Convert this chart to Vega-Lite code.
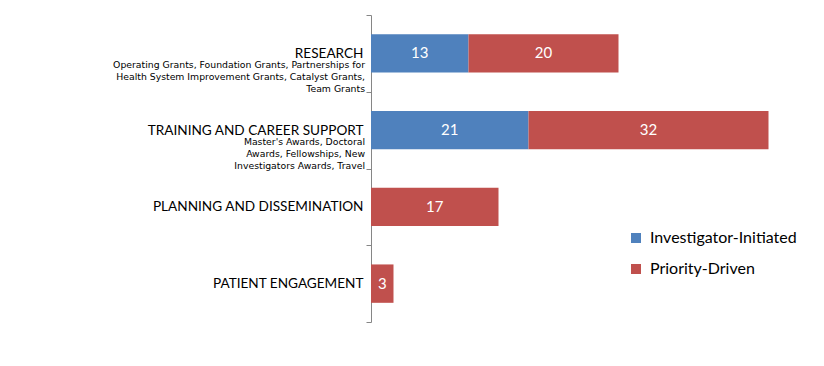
{
  "$schema": "https://vega.github.io/schema/vega-lite/v6.json",
  "width": 450,
  "height": 307,
  "autosize": {"type": "none"},
  "padding": {"left": 371, "top": 15, "right": 3, "bottom": 44},
  "background": "white",
  "config": {"view": {"stroke": null}, "font": "Lato"},
  "datasets": {
    "bars": [
      {"category": "RESEARCH", "type": "Investigator-Initiated", "value": 13},
      {"category": "RESEARCH", "type": "Priority-Driven", "value": 20},
      {"category": "TRAINING AND CAREER SUPPORT", "type": "Investigator-Initiated", "value": 21},
      {"category": "TRAINING AND CAREER SUPPORT", "type": "Priority-Driven", "value": 32},
      {"category": "PLANNING AND DISSEMINATION", "type": "Priority-Driven", "value": 17},
      {"category": "PATIENT ENGAGEMENT", "type": "Priority-Driven", "value": 3}
    ],
    "subs": [
      {"category": "RESEARCH", "sub": "Operating Grants, Foundation Grants, Partnerships for\nHealth System Improvement Grants, Catalyst Grants,\nTeam Grants"},
      {"category": "TRAINING AND CAREER SUPPORT", "sub": "Master's Awards, Doctoral\nAwards, Fellowships, New\nInvestigators Awards, Travel"}
    ]
  },
  "encoding": {
    "y": {
      "field": "category",
      "type": "nominal",
      "sort": ["RESEARCH", "TRAINING AND CAREER SUPPORT", "PLANNING AND DISSEMINATION", "PATIENT ENGAGEMENT"],
      "scale": {"paddingInner": 0, "paddingOuter": 0},
      "axis": {
        "title": null,
        "tickBand": "extent",
        "domainColor": "#868686",
        "tickColor": "#868686",
        "tickSize": 5,
        "labelFontSize": 13.6,
        "labelColor": "#000000",
        "labelPadding": 3,
        "labelLimit": 0,
        "labelFont": "Lato"
      }
    }
  },
  "layer": [
    {
      "data": {"name": "bars"},
      "mark": {"type": "bar", "height": {"band": 0.5}},
      "encoding": {
        "x": {"field": "value", "type": "quantitative", "stack": "zero", "scale": {"domain": [0, 60]}, "axis": null},
        "color": {
          "field": "type",
          "type": "nominal",
          "scale": {"domain": ["Investigator-Initiated", "Priority-Driven"], "range": ["#4F81BD", "#C0504D"]},
          "legend": {
            "title": null,
            "orient": "none",
            "legendX": 257,
            "legendY": 215,
            "symbolType": "square",
            "symbolSize": 100,
            "symbolStrokeWidth": 0,
            "labelFontSize": 16,
            "labelFont": "Lato",
            "labelColor": "#000000",
            "labelOffset": 6,
            "rowPadding": 15,
            "padding": 0
          }
        }
      }
    },
    {
      "data": {"name": "bars"},
      "mark": {"type": "text", "color": "white", "fontSize": 15, "font": "Lato"},
      "encoding": {
        "x": {"field": "value", "type": "quantitative", "stack": "zero", "bandPosition": 0.5},
        "detail": {"field": "type"},
        "text": {"field": "value"}
      }
    },
    {
      "data": {"name": "subs"},
      "mark": {"type": "text", "align": "right", "baseline": "top", "dx": -6, "dy": 8, "fontSize": 9.3, "font": "DejaVu Sans", "lineBreak": "\n", "lineHeight": 12, "color": "#000000"},
      "encoding": {
        "x": {"datum": 0, "type": "quantitative"},
        "text": {"field": "sub"}
      }
    }
  ]
}
